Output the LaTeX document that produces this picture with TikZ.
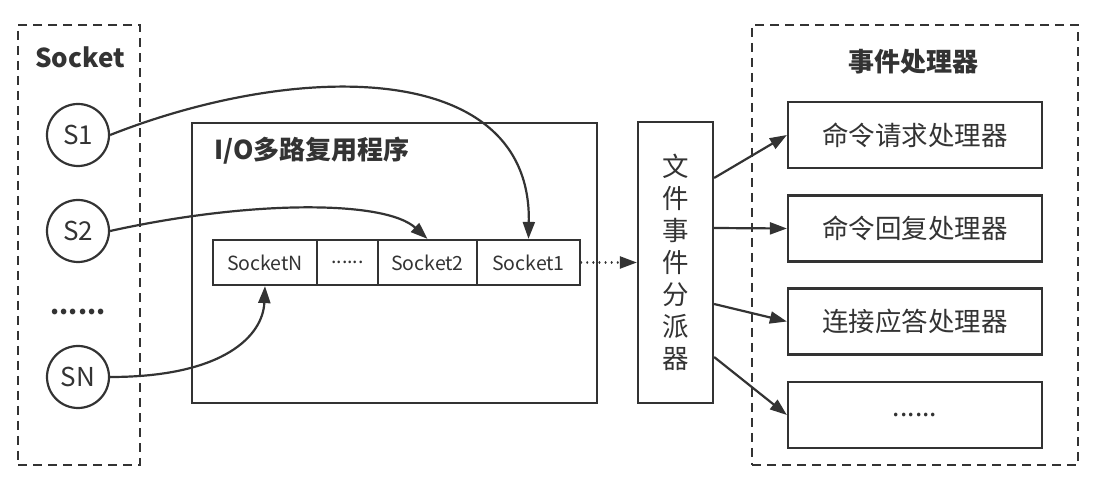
\documentclass[tikz,border=0pt]{standalone}
\usepackage{fontspec}
\setmainfont{Noto Sans CJK SC}
\usetikzlibrary{arrows.meta}
\definecolor{ink}{HTML}{333333}
\begin{document}
\begin{tikzpicture}[x=1pt,y=-1pt,
  line width=2.2pt, draw=ink, text=ink,
  box/.style={draw=ink, line width=2.2pt, rectangle, inner sep=0pt, fill=white},
  dbox/.style={draw=ink, line width=2pt, rectangle, inner sep=0pt, dash pattern=on 9pt off 6pt},
  sock/.style={draw=ink, line width=2.2pt, circle, minimum size=62pt, inner sep=0pt, font=\fontsize{26}{30}\selectfont},
  cell/.style={box, minimum height=45pt, font=\fontsize{19.5}{22}\selectfont},
  hand/.style={box, minimum width=254pt, minimum height=66pt, font=\fontsize{26.5}{30}\selectfont},
  arr/.style={draw=ink, line width=2.2pt, -{Triangle[length=17pt,width=12pt]}},
  title/.style={font=\bfseries\fontsize{26}{30}\selectfont}
]
\useasboundingbox[fill=white] (0,0) rectangle (1096,478);

% socket column
\node[dbox, minimum width=122pt, minimum height=440pt] (sockbox) at (79,245) {};
\node[title] (socktitle) at (80,57) {Socket};
\node[sock] (s1) at (78,135) {S1};
\node[sock] (s2) at (78,231) {S2};
\node[font=\bfseries\fontsize{26}{30}\selectfont] (sdots) at (78,312) {......};
\node[sock] (sn) at (78,377) {SN};

% I/O multiplexer
\node[box, minimum width=405pt, minimum height=280pt] (io) at (394.5,263) {};
\node[title, anchor=west] (iotitle) at (210,151) {I/O多路复用程序};
\node[cell, minimum width=104pt] (cN) at (265,262.5) {SocketN};
\node[cell, minimum width=61pt] (cdots) at (347.5,262.5) {......};
\node[cell, minimum width=99pt] (c2) at (427.5,262.5) {Socket2};
\node[cell, minimum width=103pt] (c1) at (528.5,262.5) {Socket1};

% dispatcher
\node[box, minimum width=75pt, minimum height=281pt, align=center,
      font=\fontsize{26.5}{32}\selectfont] (disp) at (675.5,262.5) {文\\件\\事\\件\\分\\派\\器};

% handlers
\node[dbox, minimum width=326pt, minimum height=440pt] (hbox) at (915,245) {};
\node[title] (htitle) at (913,62) {事件处理器};
\node[hand] (h1) at (915,135) {命令请求处理器};
\node[hand] (h2) at (915,228.5) {命令回复处理器};
\node[hand] (h3) at (915,321.5) {连接应答处理器};
\node[hand] (h4) at (915,415) {......};

% curves
\draw[arr] (s1.east) .. controls (300,60) and (532,60) .. (c1.north);
\draw[arr] (s2.east) .. controls (250,200) and (385,200) .. (c2.north);
\draw[arr] (sn.east) .. controls (225,377) and (263,335) .. (cN.south);

% dotted
\draw[arr, line cap=round, dash pattern=on 0.1pt off 6pt] (c1.east) -- (disp.west);

% dispatcher to handlers
\draw[arr] ([yshift=84.5pt]disp.east) -- (h1.west);
\draw[arr] ([yshift=34.5pt]disp.east) -- (h2.west);
\draw[arr] ([yshift=-41.5pt]disp.east) -- (h3.west);
\draw[arr] ([yshift=-94.5pt]disp.east) -- (h4.west);
\end{tikzpicture}
\end{document}
